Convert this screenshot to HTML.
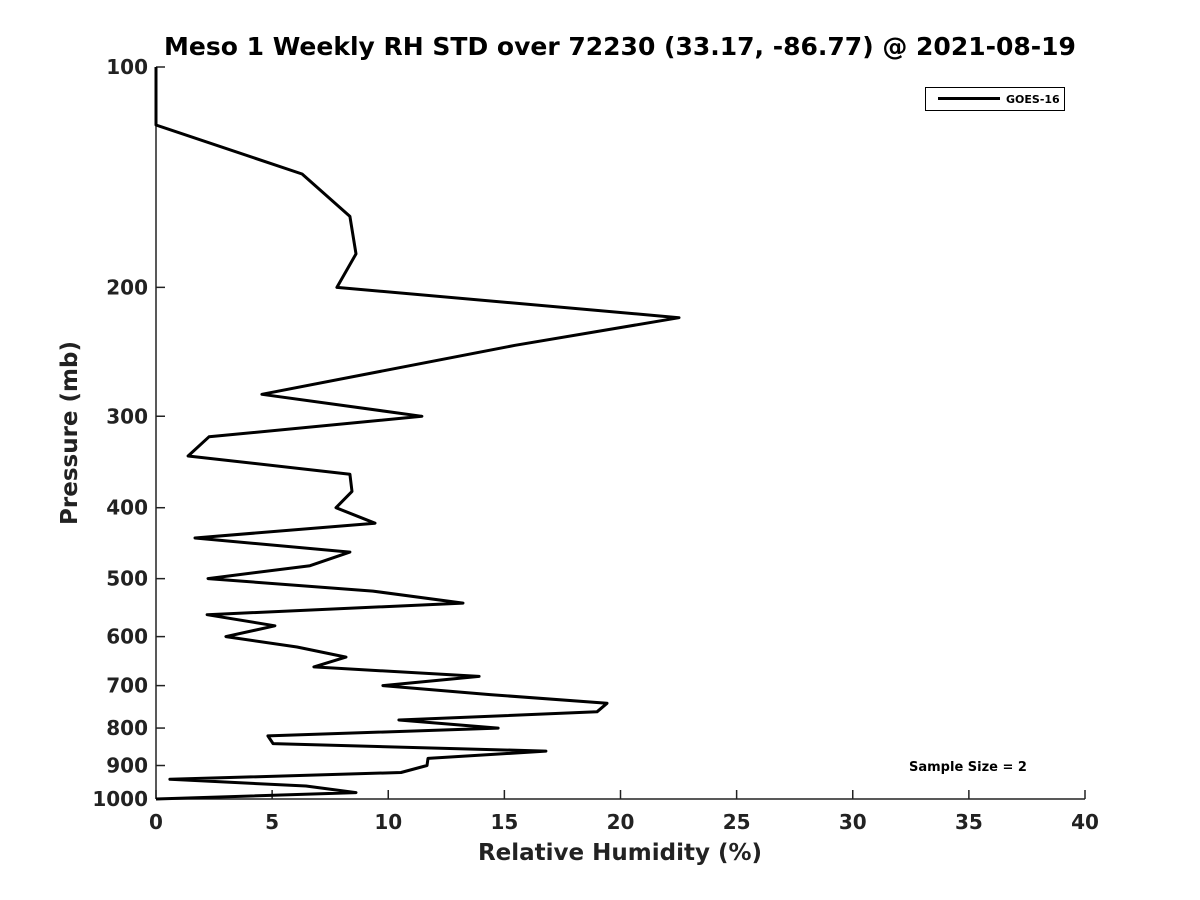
<!DOCTYPE html>
<html><head><meta charset="utf-8"><style>
html,body{margin:0;padding:0;background:#fff;}
svg{display:block;font-family:"DejaVu Sans","Liberation Sans",sans-serif;font-weight:bold;}
</style></head><body>
<svg id="chart" width="1200" height="900" viewBox="0 0 1200 900">
<text x="620" y="55" text-anchor="middle" font-size="25" fill="#000">Meso 1 Weekly RH STD over 72230 (33.17, -86.77) @ 2021-08-19</text>
<g id="axes"></g>
<path id="series" fill="none" stroke="#000" stroke-width="3" stroke-linejoin="round"/>
<g>
<rect x="925.5" y="87.5" width="139" height="23" fill="#fff" stroke="#000" stroke-width="1"/>
<line x1="938" y1="98.5" x2="1000" y2="98.5" stroke="#000" stroke-width="3"/>
<text x="1006" y="103" font-size="11">GOES-16</text>
</g>
<text x="968" y="771" text-anchor="middle" font-size="13">Sample Size = 2</text>
<text x="620" y="860" text-anchor="middle" font-size="23" fill="#222">Relative Humidity (%)</text>
<text transform="translate(77,433) rotate(-90)" text-anchor="middle" font-size="23" fill="#222">Pressure (mb)</text>
</svg>
<script>
const pressures=[100,120,140,160,180,200,220,240,280,300,320,340,360,380,400,420,440,460,480,500,520,540,560,580,600,620,640,660,680,700,720,740,760,780,800,820,840,860,880,900,920,940,960,980,1000];
const rhStd=[0,0,6.29,8.35,8.61,7.79,22.52,15.46,4.56,11.45,2.28,1.38,8.35,8.44,7.75,9.43,1.68,8.35,6.63,2.24,9.34,13.22,2.2,5.12,3.01,6.07,8.18,6.8,13.91,9.77,14.38,19.42,18.99,10.46,14.73,4.82,5.04,16.79,11.71,11.67,10.55,0.6,6.46,8.61,0];
const xTicks=[0,5,10,15,20,25,30,35,40];
const yTicks=[100,200,300,400,500,600,700,800,900,1000];
const X0=156,X1=1085,Y0=67,Y1=799;
const xs=v=>X0+(v-0)/40*(X1-X0);
const ys=p=>Y0+Math.log10(p/100)*(Y1-Y0);
const NS="http://www.w3.org/2000/svg";
const ax=document.getElementById('axes');
function mk(t,a){const e=document.createElementNS(NS,t);for(const k in a)e.setAttribute(k,a[k]);return e;}
let l=mk('line',{x1:X0,y1:Y1,x2:X1,y2:Y1,stroke:'#222','stroke-width':1.5});


ax.appendChild(l);
l=mk('line',{x1:X0,y1:Y0,x2:X0,y2:Y1,stroke:'#222','stroke-width':1.5});


ax.appendChild(l);
xTicks.forEach(v=>{const x=xs(v);
const t=mk('line',{x1:x,y1:Y1,x2:x,y2:Y1-9,stroke:'#222','stroke-width':1.5});


ax.appendChild(t);
const tx=mk('text',{x:x,y:Y1+30,'text-anchor':'middle','font-size':20,fill:'#222'});
tx.textContent=v;


ax.appendChild(tx);});
yTicks.forEach(p=>{const y=ys(p);
const t=mk('line',{x1:X0,y1:y,x2:X0+9,y2:y,stroke:'#222','stroke-width':1.5});


ax.appendChild(t);
const tx=mk('text',{x:X0-8,y:y+7,'text-anchor':'end','font-size':20,fill:'#222'});
tx.textContent=p;


ax.appendChild(tx);});
document.getElementById('series').setAttribute('d',pressures.map((p,i)=>(i?'L':'M')+xs(rhStd[i]).toFixed(1)+','+ys(p).toFixed(1)).join(''));
</script>
</body></html>
